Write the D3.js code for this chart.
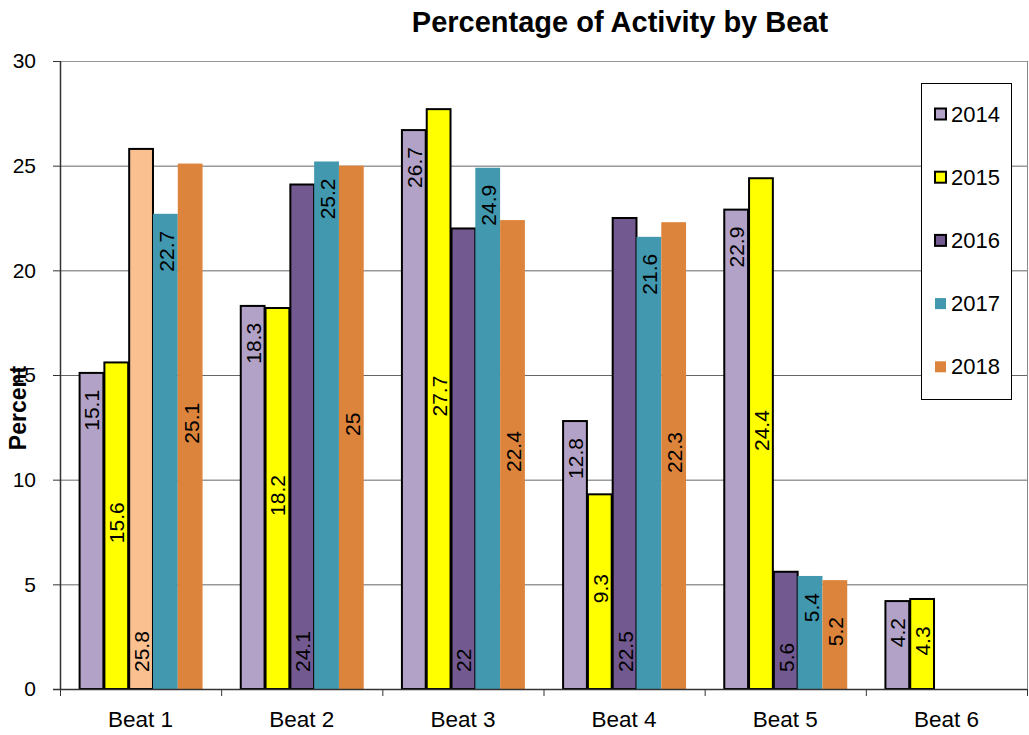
<!DOCTYPE html>
<html><head><meta charset="utf-8">
<script src="https://cdn.jsdelivr.net/npm/d3@7"></script>
<style>body{margin:0;background:#fff}svg{display:block}text{font-family:Arial,"Liberation Sans",sans-serif}</style>
</head><body><svg id="c" width="1029" height="735"></svg>
<script>
const beats = ["Beat 1","Beat 2","Beat 3","Beat 4","Beat 5","Beat 6"];
const years = ["2014","2015","2016","2017","2018"];
const v2014 = [15.1, 18.3, 26.7, 12.8, 22.9, 4.2];
const v2015 = [15.6, 18.2, 27.7, 9.3, 24.4, 4.3];
const v2016 = [25.8, 24.1, 22, 22.5, 5.6, null];
const v2017 = [22.7, 25.2, 24.9, 21.6, 5.4, null];
const v2018 = [25.1, 25, 22.4, 22.3, 5.2, null];
const yTicks = [0,5,10,15,20,25,30];

const seriesVals = [v2014, v2015, v2016, v2017, v2018];
const colors = ["#b3a2c7","#ffff00","#725990","#4198af","#dd843c"];
const stroked = [true,true,true,false,false];
const labelPos = ["end","center","base","end","center"];
const specialFill = {"2016|Beat 1":"#fac090"};

const svg = d3.select("#c");
const L=60, R=1027, T=61, B=689;
const x0 = d3.scaleBand().domain(beats).range([L,R]).padding(0);
const x1 = d3.scaleBand().domain(years).range([0,x0.bandwidth()]).paddingInner(0).paddingOuter(0.75);
const y = d3.scaleLinear().domain([0,30]).range([B,T]);

// gridlines
svg.append("g").selectAll("line").data(yTicks.filter(d=>d>0)).join("line")
  .attr("x1",L).attr("x2",R).attr("y1",d=>y(d)+0.5).attr("y2",d=>y(d)+0.5)
  .attr("stroke",d=>d===30?"#999":"#666").attr("stroke-width",1);
svg.append("line").attr("x1",R+0.5).attr("x2",R+0.5).attr("y1",T).attr("y2",B).attr("stroke","#888");

// bars
const data = [];
beats.forEach((b,i)=>years.forEach((yr,j)=>{
  const v = seriesVals[j][i];
  if(v!==null) data.push({b,yr,j,v});
}));
const g = svg.append("g");
g.selectAll("rect").data(data).join("rect")
  .attr("x",d=>x0(d.b)+x1(d.yr)+(stroked[d.j]?1:0))
  .attr("width",d=>x1.bandwidth()-(stroked[d.j]?1:0))
  .attr("y",d=>y(d.v)).attr("height",d=>B-y(d.v))
  .attr("fill",d=>specialFill[d.yr+"|"+d.b]||colors[d.j])
  .attr("stroke",d=>stroked[d.j]?"#000":"none").attr("stroke-width",2);

// labels
g.selectAll("text.lab").data(data).join("text").attr("class","lab")
  .each(function(d){
    const cx = x0(d.b)+x1(d.yr)+x1.bandwidth()/2+1;
    let cy, anchor;
    if(labelPos[d.j]==="end"){cy=y(d.v)+17;anchor="end";}
    else if(labelPos[d.j]==="base"){cy=B-17;anchor="start";}
    else {cy=(y(d.v)+B)/2-3;anchor="middle";}
    d3.select(this).attr("transform",`translate(${cx},${cy}) rotate(-90)`)
      .attr("text-anchor",anchor).attr("dominant-baseline","central")
      .attr("font-size",21).attr("fill","#000").text(d.v);
  });

// y axis
const ya = svg.append("g").attr("transform",`translate(${L},0)`)
  .call(d3.axisLeft(y).tickValues(yTicks).tickSize(7).tickPadding(17));
ya.select(".domain").attr("d",`M0.5,${T}V${B}`).attr("stroke","#333").attr("stroke-width",1.5);
ya.selectAll(".tick line").attr("stroke","#333");
ya.selectAll(".tick text").attr("font-size",21).attr("fill","#000").attr("font-family","Arial,Liberation Sans,sans-serif");

// x axis
const xa = svg.append("g").attr("transform",`translate(0,${B})`);
xa.append("line").attr("x1",L-7).attr("x2",R).attr("y1",0.5).attr("y2",0.5).attr("stroke","#333").attr("stroke-width",1.5);
xa.selectAll("line.t").data(d3.range(beats.length+1)).join("line").attr("class","t")
  .attr("x1",i=>L+i*x0.step()+0.5).attr("x2",i=>L+i*x0.step()+0.5).attr("y1",0).attr("y2",7).attr("stroke","#333");
xa.selectAll("text").data(beats).join("text")
  .attr("x",d=>x0(d)+x0.bandwidth()/2).attr("y",38).attr("text-anchor","middle")
  .attr("font-size",22.5).attr("fill","#000").text(d=>d);

// titles
svg.append("text").attr("x",620).attr("y",32).attr("text-anchor","middle")
  .attr("font-size",29).attr("font-weight","bold").text("Percentage of Activity by Beat");
svg.append("text").attr("transform","translate(26,408) rotate(-90)").attr("text-anchor","middle")
  .attr("font-size",23).attr("font-weight","bold").text("Percent");

// legend
const lg = svg.append("g");
lg.append("rect").attr("x",921.5).attr("y",83.5).attr("width",90).attr("height",316)
  .attr("fill","#fff").attr("stroke","#000").attr("stroke-width",1);
years.forEach((yr,j)=>{
  const cy = 114 + j*63.2;
  lg.append("rect").attr("x",935).attr("y",cy-5.5).attr("width",11).attr("height",11)
    .attr("fill",colors[j]).attr("stroke",stroked[j]?"#000":"none").attr("stroke-width",2);
  lg.append("text").attr("x",951).attr("y",cy).attr("dominant-baseline","central")
    .attr("font-size",22).text(yr);
});
</script></body></html>
